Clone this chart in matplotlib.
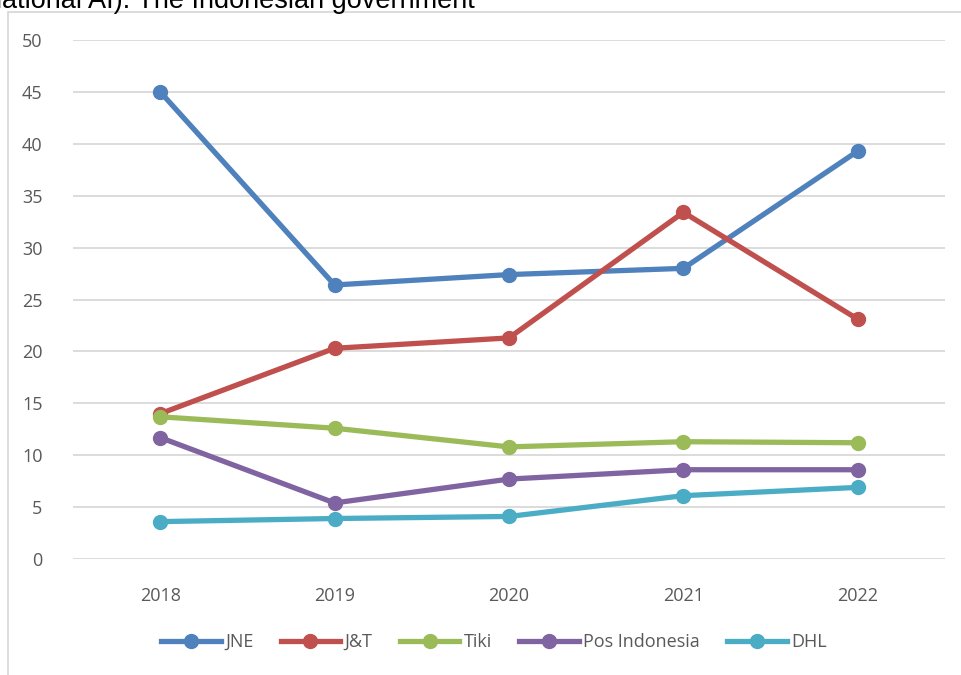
import matplotlib.pyplot as plt
from matplotlib.patches import Rectangle
from matplotlib.lines import Line2D

years = ['2018', '2019', '2020', '2021', '2022']
jne = [45.0, 26.4, 27.4, 28.0, 39.3]
jnt = [14.0, 20.3, 21.3, 33.4, 23.1]
tiki = [13.7, 12.6, 10.8, 11.3, 11.2]
pos = [11.7, 5.4, 7.7, 8.6, 8.6]
dhl = [3.6, 3.9, 4.1, 6.1, 6.9]

names = ['JNE', 'J&T', 'Tiki', 'Pos Indonesia', 'DHL']
colors = ['#4F81BD', '#C0504D', '#9BBB59', '#8064A2', '#4BACC6']
series = [jne, jnt, tiki, pos, dhl]

plt.rcParams['font.family'] = ['Open Sans', 'DejaVu Sans']

fig = plt.figure(figsize=(9.61, 6.75), dpi=100)
ax = fig.add_axes([73/961, 116/675, (945-73)/961, (559-40)/675])

x = list(range(len(years)))
for vals, name, c in zip(series, names, colors):
    ax.plot(x, vals, color=c, lw=3.8, marker='o', ms=10, label=name,
            solid_capstyle='round')

ax.set_xlim(-0.5, 4.5)
ax.set_ylim(0, 50)
ax.set_yticks(range(0, 51, 5))
ax.set_xticks(x)
ax.set_xticklabels(years)
ax.grid(axis='y', color='#D9D9D9', lw=1.3)
ax.set_axisbelow(True)
for s in ax.spines.values():
    s.set_visible(False)
ax.tick_params(axis='both', length=0, labelsize=13, colors='#595959')
ax.tick_params(axis='y', pad=22)
ax.tick_params(axis='x', pad=20)

handles = [Line2D([], [], color=c, lw=3.8, marker='o', ms=10) for c in colors]
fig.legend(handles, names, loc='center', bbox_to_anchor=(0.514, 1 - 642/675),
           ncol=5, frameon=False, fontsize=13, handlelength=3.3,
           columnspacing=1.5, handletextpad=0.25, labelcolor='#595959')

# outer chart frame
fig.patches.append(Rectangle((8/961, -0.01), 1.0, 1 - 12/675 + 0.01,
                             transform=fig.transFigure, fill=False,
                             edgecolor='#D9D9D9', lw=1.3))

# clipped text from the page above
fig.text(-0.014, 1 - 8/675, 'national AI). The Indonesian government',
         fontsize=19.5, family='Liberation Sans', color='black', va='baseline')

fig.savefig('out.png', dpi=100)
